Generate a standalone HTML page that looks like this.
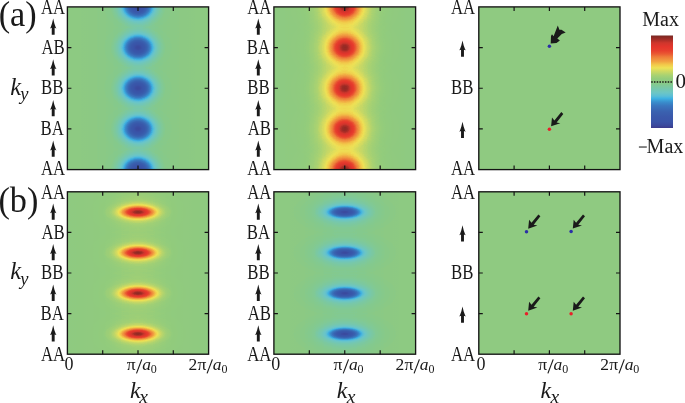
<!DOCTYPE html><html><head><meta charset="utf-8"><style>html,body{margin:0;padding:0;background:#fff;overflow:hidden}svg{display:block;will-change:transform}text{font-family:"Liberation Serif",serif;fill:#1a1a1a;stroke:none}.i{font-style:italic}</style></head><body><svg width="685" height="403" viewBox="0 0 685 403"><defs><filter id="cmP" x="0" y="0" width="1" height="1" color-interpolation-filters="sRGB"><feComponentTransfer><feFuncR type="table" tableValues="0.235 0.234 0.233 0.231 0.230 0.229 0.228 0.227 0.227 0.227 0.227 0.227 0.227 0.227 0.227 0.227 0.227 0.227 0.227 0.227 0.227 0.227 0.227 0.227 0.226 0.225 0.224 0.226 0.232 0.238 0.245 0.274 0.318 0.358 0.379 0.400 0.421 0.432 0.442 0.452 0.462 0.472 0.484 0.495 0.507 0.519 0.533 0.551 0.563 0.567 0.571 0.587 0.610 0.633 0.655 0.690 0.727 0.763 0.800 0.836 0.871 0.907 0.935 0.939 0.944 0.949 0.948 0.947 0.946 0.944 0.941 0.939 0.936 0.934 0.929 0.923 0.918 0.914 0.911 0.907 0.903 0.900 0.896 0.892 0.882 0.861 0.841 0.820 0.783 0.734 0.686 0.637 0.594 0.553 0.512 0.471"/><feFuncG type="table" tableValues="0.227 0.249 0.271 0.292 0.302 0.312 0.323 0.331 0.334 0.337 0.340 0.344 0.349 0.356 0.363 0.370 0.377 0.384 0.397 0.410 0.424 0.438 0.452 0.468 0.492 0.517 0.542 0.572 0.609 0.646 0.683 0.710 0.730 0.747 0.757 0.766 0.776 0.778 0.780 0.781 0.783 0.785 0.786 0.788 0.790 0.791 0.792 0.792 0.794 0.796 0.799 0.804 0.810 0.816 0.823 0.830 0.837 0.844 0.852 0.860 0.870 0.879 0.879 0.848 0.817 0.787 0.743 0.698 0.653 0.616 0.585 0.554 0.522 0.491 0.447 0.400 0.353 0.322 0.292 0.261 0.244 0.234 0.224 0.214 0.208 0.209 0.210 0.211 0.206 0.195 0.185 0.175 0.169 0.165 0.161 0.157"/><feFuncB type="table" tableValues="0.549 0.574 0.599 0.621 0.631 0.642 0.652 0.659 0.661 0.663 0.664 0.666 0.669 0.673 0.677 0.682 0.686 0.690 0.699 0.708 0.718 0.728 0.737 0.748 0.764 0.779 0.795 0.813 0.834 0.856 0.878 0.874 0.855 0.835 0.816 0.797 0.778 0.756 0.733 0.709 0.686 0.663 0.636 0.610 0.583 0.557 0.534 0.515 0.502 0.496 0.489 0.480 0.469 0.459 0.449 0.435 0.420 0.405 0.391 0.376 0.362 0.348 0.334 0.320 0.305 0.291 0.281 0.272 0.263 0.255 0.248 0.242 0.235 0.228 0.219 0.210 0.200 0.194 0.188 0.182 0.179 0.177 0.175 0.174 0.173 0.173 0.173 0.173 0.169 0.163 0.156 0.150 0.146 0.142 0.137 0.133"/></feComponentTransfer></filter><filter id="cmN" x="0" y="0" width="1" height="1" color-interpolation-filters="sRGB"><feComponentTransfer><feFuncR type="table" tableValues="0.471 0.512 0.553 0.594 0.637 0.686 0.734 0.783 0.820 0.841 0.861 0.882 0.892 0.896 0.900 0.903 0.907 0.911 0.914 0.918 0.923 0.929 0.934 0.936 0.939 0.941 0.944 0.946 0.947 0.948 0.949 0.944 0.939 0.935 0.907 0.871 0.836 0.800 0.763 0.727 0.690 0.655 0.633 0.610 0.587 0.571 0.567 0.563 0.551 0.533 0.519 0.507 0.495 0.484 0.472 0.462 0.452 0.442 0.432 0.421 0.400 0.379 0.358 0.318 0.274 0.245 0.238 0.232 0.226 0.224 0.225 0.226 0.227 0.227 0.227 0.227 0.227 0.227 0.227 0.227 0.227 0.227 0.227 0.227 0.227 0.227 0.227 0.227 0.227 0.228 0.229 0.230 0.231 0.233 0.234 0.235"/><feFuncG type="table" tableValues="0.157 0.161 0.165 0.169 0.175 0.185 0.195 0.206 0.211 0.210 0.209 0.208 0.214 0.224 0.234 0.244 0.261 0.292 0.322 0.353 0.400 0.447 0.491 0.522 0.554 0.585 0.616 0.653 0.698 0.743 0.787 0.817 0.848 0.879 0.879 0.870 0.860 0.852 0.844 0.837 0.830 0.823 0.816 0.810 0.804 0.799 0.796 0.794 0.792 0.792 0.791 0.790 0.788 0.786 0.785 0.783 0.781 0.780 0.778 0.776 0.766 0.757 0.747 0.730 0.710 0.683 0.646 0.609 0.572 0.542 0.517 0.492 0.468 0.452 0.438 0.424 0.410 0.397 0.384 0.377 0.370 0.363 0.356 0.349 0.344 0.340 0.337 0.334 0.331 0.323 0.312 0.302 0.292 0.271 0.249 0.227"/><feFuncB type="table" tableValues="0.133 0.137 0.142 0.146 0.150 0.156 0.163 0.169 0.173 0.173 0.173 0.173 0.174 0.175 0.177 0.179 0.182 0.188 0.194 0.200 0.210 0.219 0.228 0.235 0.242 0.248 0.255 0.263 0.272 0.281 0.291 0.305 0.320 0.334 0.348 0.362 0.376 0.391 0.405 0.420 0.435 0.449 0.459 0.469 0.480 0.489 0.496 0.502 0.515 0.534 0.557 0.583 0.610 0.636 0.663 0.686 0.709 0.733 0.756 0.778 0.797 0.816 0.835 0.855 0.874 0.878 0.856 0.834 0.813 0.795 0.779 0.764 0.748 0.737 0.728 0.718 0.708 0.699 0.690 0.686 0.682 0.677 0.673 0.669 0.666 0.664 0.663 0.661 0.659 0.652 0.642 0.631 0.621 0.599 0.574 0.549"/></feComponentTransfer></filter><radialGradient id="gw"><stop offset="0.000" stop-color="#fff" stop-opacity="1.0000"/><stop offset="0.033" stop-color="#fff" stop-opacity="0.9950"/><stop offset="0.067" stop-color="#fff" stop-opacity="0.9802"/><stop offset="0.100" stop-color="#fff" stop-opacity="0.9560"/><stop offset="0.133" stop-color="#fff" stop-opacity="0.9231"/><stop offset="0.167" stop-color="#fff" stop-opacity="0.8825"/><stop offset="0.200" stop-color="#fff" stop-opacity="0.8353"/><stop offset="0.233" stop-color="#fff" stop-opacity="0.7827"/><stop offset="0.267" stop-color="#fff" stop-opacity="0.7261"/><stop offset="0.300" stop-color="#fff" stop-opacity="0.6670"/><stop offset="0.333" stop-color="#fff" stop-opacity="0.6065"/><stop offset="0.367" stop-color="#fff" stop-opacity="0.5461"/><stop offset="0.400" stop-color="#fff" stop-opacity="0.4868"/><stop offset="0.433" stop-color="#fff" stop-opacity="0.4296"/><stop offset="0.467" stop-color="#fff" stop-opacity="0.3753"/><stop offset="0.500" stop-color="#fff" stop-opacity="0.3247"/><stop offset="0.533" stop-color="#fff" stop-opacity="0.2780"/><stop offset="0.567" stop-color="#fff" stop-opacity="0.2357"/><stop offset="0.600" stop-color="#fff" stop-opacity="0.1979"/><stop offset="0.633" stop-color="#fff" stop-opacity="0.1645"/><stop offset="0.667" stop-color="#fff" stop-opacity="0.1353"/><stop offset="0.700" stop-color="#fff" stop-opacity="0.1103"/><stop offset="0.733" stop-color="#fff" stop-opacity="0.0889"/><stop offset="0.767" stop-color="#fff" stop-opacity="0.0710"/><stop offset="0.800" stop-color="#fff" stop-opacity="0.0561"/><stop offset="0.833" stop-color="#fff" stop-opacity="0.0439"/><stop offset="0.867" stop-color="#fff" stop-opacity="0.0340"/><stop offset="0.900" stop-color="#fff" stop-opacity="0.0261"/><stop offset="0.933" stop-color="#fff" stop-opacity="0.0198"/><stop offset="0.967" stop-color="#fff" stop-opacity="0.0149"/><stop offset="1.000" stop-color="#fff" stop-opacity="0.0111"/></radialGradient><radialGradient id="gh"><stop offset="0.000" stop-color="#fff" stop-opacity="1.0000"/><stop offset="0.033" stop-color="#fff" stop-opacity="1.0000"/><stop offset="0.067" stop-color="#fff" stop-opacity="0.9998"/><stop offset="0.100" stop-color="#fff" stop-opacity="0.9992"/><stop offset="0.133" stop-color="#fff" stop-opacity="0.9975"/><stop offset="0.167" stop-color="#fff" stop-opacity="0.9938"/><stop offset="0.200" stop-color="#fff" stop-opacity="0.9873"/><stop offset="0.233" stop-color="#fff" stop-opacity="0.9766"/><stop offset="0.267" stop-color="#fff" stop-opacity="0.9604"/><stop offset="0.300" stop-color="#fff" stop-opacity="0.9373"/><stop offset="0.333" stop-color="#fff" stop-opacity="0.9060"/><stop offset="0.367" stop-color="#fff" stop-opacity="0.8654"/><stop offset="0.400" stop-color="#fff" stop-opacity="0.8148"/><stop offset="0.433" stop-color="#fff" stop-opacity="0.7542"/><stop offset="0.467" stop-color="#fff" stop-opacity="0.6843"/><stop offset="0.500" stop-color="#fff" stop-opacity="0.6065"/><stop offset="0.533" stop-color="#fff" stop-opacity="0.5235"/><stop offset="0.567" stop-color="#fff" stop-opacity="0.4383"/><stop offset="0.600" stop-color="#fff" stop-opacity="0.3546"/><stop offset="0.633" stop-color="#fff" stop-opacity="0.2761"/><stop offset="0.667" stop-color="#fff" stop-opacity="0.2059"/><stop offset="0.700" stop-color="#fff" stop-opacity="0.1465"/><stop offset="0.733" stop-color="#fff" stop-opacity="0.0989"/><stop offset="0.767" stop-color="#fff" stop-opacity="0.0630"/><stop offset="0.800" stop-color="#fff" stop-opacity="0.0377"/><stop offset="0.833" stop-color="#fff" stop-opacity="0.0211"/><stop offset="0.867" stop-color="#fff" stop-opacity="0.0110"/><stop offset="0.900" stop-color="#fff" stop-opacity="0.0053"/><stop offset="0.933" stop-color="#fff" stop-opacity="0.0023"/><stop offset="0.967" stop-color="#fff" stop-opacity="0.0009"/><stop offset="1.000" stop-color="#fff" stop-opacity="0.0003"/></radialGradient><linearGradient id="cb" x1="0" y1="1" x2="0" y2="0"><stop offset="0.000" stop-color="#3c3a8c"/><stop offset="0.030" stop-color="#3b4a9e"/><stop offset="0.070" stop-color="#3a54a8"/><stop offset="0.120" stop-color="#3a58aa"/><stop offset="0.180" stop-color="#3a62b0"/><stop offset="0.240" stop-color="#3a76be"/><stop offset="0.280" stop-color="#398ecd"/><stop offset="0.320" stop-color="#3fb2e2"/><stop offset="0.345" stop-color="#5abed6"/><stop offset="0.380" stop-color="#6cc6c6"/><stop offset="0.430" stop-color="#78c8aa"/><stop offset="0.480" stop-color="#86ca8a"/><stop offset="0.500" stop-color="#8fca81"/><stop offset="0.530" stop-color="#92cc7c"/><stop offset="0.570" stop-color="#a8d272"/><stop offset="0.615" stop-color="#d0da62"/><stop offset="0.650" stop-color="#eee256"/><stop offset="0.685" stop-color="#f2c84a"/><stop offset="0.720" stop-color="#f1a242"/><stop offset="0.770" stop-color="#ee7c3a"/><stop offset="0.800" stop-color="#ea5a33"/><stop offset="0.835" stop-color="#e7402e"/><stop offset="0.880" stop-color="#e3352c"/><stop offset="0.920" stop-color="#cf362c"/><stop offset="0.960" stop-color="#a02c26"/><stop offset="1.000" stop-color="#782822"/></linearGradient><clipPath id="c00"><rect x="67.40" y="6.90" width="141.20" height="162.70"/></clipPath><clipPath id="c01"><rect x="67.40" y="191.80" width="141.20" height="162.40"/></clipPath><clipPath id="c10"><rect x="273.90" y="6.90" width="141.70" height="162.70"/></clipPath><clipPath id="c11"><rect x="273.90" y="191.80" width="141.70" height="162.40"/></clipPath><clipPath id="c20"><rect x="478.80" y="6.90" width="141.20" height="162.70"/></clipPath><clipPath id="c21"><rect x="478.80" y="191.80" width="141.20" height="162.40"/></clipPath></defs><g clip-path="url(#c00)"><g filter="url(#cmN)" style="isolation:isolate"><rect x="66.40" y="5.90" width="143.20" height="164.70" fill="#808080"/><linearGradient id="bd00" x1="0" y1="0" x2="1" y2="0"><stop offset="0.000" stop-color="#fff" stop-opacity="0.0005"/><stop offset="0.025" stop-color="#fff" stop-opacity="0.0007"/><stop offset="0.050" stop-color="#fff" stop-opacity="0.0010"/><stop offset="0.075" stop-color="#fff" stop-opacity="0.0014"/><stop offset="0.100" stop-color="#fff" stop-opacity="0.0019"/><stop offset="0.125" stop-color="#fff" stop-opacity="0.0025"/><stop offset="0.150" stop-color="#fff" stop-opacity="0.0033"/><stop offset="0.175" stop-color="#fff" stop-opacity="0.0042"/><stop offset="0.200" stop-color="#fff" stop-opacity="0.0053"/><stop offset="0.225" stop-color="#fff" stop-opacity="0.0066"/><stop offset="0.250" stop-color="#fff" stop-opacity="0.0080"/><stop offset="0.275" stop-color="#fff" stop-opacity="0.0096"/><stop offset="0.300" stop-color="#fff" stop-opacity="0.0115"/><stop offset="0.325" stop-color="#fff" stop-opacity="0.0137"/><stop offset="0.350" stop-color="#fff" stop-opacity="0.0165"/><stop offset="0.375" stop-color="#fff" stop-opacity="0.0201"/><stop offset="0.400" stop-color="#fff" stop-opacity="0.0246"/><stop offset="0.425" stop-color="#fff" stop-opacity="0.0298"/><stop offset="0.450" stop-color="#fff" stop-opacity="0.0349"/><stop offset="0.475" stop-color="#fff" stop-opacity="0.0386"/><stop offset="0.500" stop-color="#fff" stop-opacity="0.0400"/><stop offset="0.525" stop-color="#fff" stop-opacity="0.0386"/><stop offset="0.550" stop-color="#fff" stop-opacity="0.0349"/><stop offset="0.575" stop-color="#fff" stop-opacity="0.0298"/><stop offset="0.600" stop-color="#fff" stop-opacity="0.0246"/><stop offset="0.625" stop-color="#fff" stop-opacity="0.0201"/><stop offset="0.650" stop-color="#fff" stop-opacity="0.0165"/><stop offset="0.675" stop-color="#fff" stop-opacity="0.0137"/><stop offset="0.700" stop-color="#fff" stop-opacity="0.0115"/><stop offset="0.725" stop-color="#fff" stop-opacity="0.0096"/><stop offset="0.750" stop-color="#fff" stop-opacity="0.0080"/><stop offset="0.775" stop-color="#fff" stop-opacity="0.0066"/><stop offset="0.800" stop-color="#fff" stop-opacity="0.0053"/><stop offset="0.825" stop-color="#fff" stop-opacity="0.0042"/><stop offset="0.850" stop-color="#fff" stop-opacity="0.0033"/><stop offset="0.875" stop-color="#fff" stop-opacity="0.0025"/><stop offset="0.900" stop-color="#fff" stop-opacity="0.0019"/><stop offset="0.925" stop-color="#fff" stop-opacity="0.0014"/><stop offset="0.950" stop-color="#fff" stop-opacity="0.0010"/><stop offset="0.975" stop-color="#fff" stop-opacity="0.0007"/><stop offset="1.000" stop-color="#fff" stop-opacity="0.0005"/></linearGradient><rect x="66.40" y="5.90" width="143.20" height="164.70" fill="url(#bd00)" style="mix-blend-mode:plus-lighter"/><ellipse cx="138.00" cy="6.90" rx="36.00" ry="27.00" fill="url(#gh)" opacity="0.0645" style="mix-blend-mode:plus-lighter"/><ellipse cx="138.00" cy="6.90" rx="27.00" ry="21.30" fill="url(#gw)" opacity="0.3655" style="mix-blend-mode:plus-lighter"/><ellipse cx="138.00" cy="47.57" rx="36.00" ry="27.00" fill="url(#gh)" opacity="0.0645" style="mix-blend-mode:plus-lighter"/><ellipse cx="138.00" cy="47.57" rx="27.00" ry="21.30" fill="url(#gw)" opacity="0.3655" style="mix-blend-mode:plus-lighter"/><ellipse cx="138.00" cy="88.25" rx="36.00" ry="27.00" fill="url(#gh)" opacity="0.0645" style="mix-blend-mode:plus-lighter"/><ellipse cx="138.00" cy="88.25" rx="27.00" ry="21.30" fill="url(#gw)" opacity="0.3655" style="mix-blend-mode:plus-lighter"/><ellipse cx="138.00" cy="128.92" rx="36.00" ry="27.00" fill="url(#gh)" opacity="0.0645" style="mix-blend-mode:plus-lighter"/><ellipse cx="138.00" cy="128.92" rx="27.00" ry="21.30" fill="url(#gw)" opacity="0.3655" style="mix-blend-mode:plus-lighter"/><ellipse cx="138.00" cy="169.60" rx="36.00" ry="27.00" fill="url(#gh)" opacity="0.0645" style="mix-blend-mode:plus-lighter"/><ellipse cx="138.00" cy="169.60" rx="27.00" ry="21.30" fill="url(#gw)" opacity="0.3655" style="mix-blend-mode:plus-lighter"/></g></g><g clip-path="url(#c10)"><g filter="url(#cmP)" style="isolation:isolate"><rect x="272.90" y="5.90" width="143.70" height="164.70" fill="#808080"/><linearGradient id="bd10" x1="0" y1="0" x2="1" y2="0"><stop offset="0.000" stop-color="#fff" stop-opacity="0.0005"/><stop offset="0.025" stop-color="#fff" stop-opacity="0.0008"/><stop offset="0.050" stop-color="#fff" stop-opacity="0.0012"/><stop offset="0.075" stop-color="#fff" stop-opacity="0.0017"/><stop offset="0.100" stop-color="#fff" stop-opacity="0.0025"/><stop offset="0.125" stop-color="#fff" stop-opacity="0.0034"/><stop offset="0.150" stop-color="#fff" stop-opacity="0.0047"/><stop offset="0.175" stop-color="#fff" stop-opacity="0.0063"/><stop offset="0.200" stop-color="#fff" stop-opacity="0.0083"/><stop offset="0.225" stop-color="#fff" stop-opacity="0.0107"/><stop offset="0.250" stop-color="#fff" stop-opacity="0.0135"/><stop offset="0.275" stop-color="#fff" stop-opacity="0.0166"/><stop offset="0.300" stop-color="#fff" stop-opacity="0.0199"/><stop offset="0.325" stop-color="#fff" stop-opacity="0.0235"/><stop offset="0.350" stop-color="#fff" stop-opacity="0.0270"/><stop offset="0.375" stop-color="#fff" stop-opacity="0.0305"/><stop offset="0.400" stop-color="#fff" stop-opacity="0.0336"/><stop offset="0.425" stop-color="#fff" stop-opacity="0.0363"/><stop offset="0.450" stop-color="#fff" stop-opacity="0.0383"/><stop offset="0.475" stop-color="#fff" stop-opacity="0.0396"/><stop offset="0.500" stop-color="#fff" stop-opacity="0.0400"/><stop offset="0.525" stop-color="#fff" stop-opacity="0.0396"/><stop offset="0.550" stop-color="#fff" stop-opacity="0.0383"/><stop offset="0.575" stop-color="#fff" stop-opacity="0.0363"/><stop offset="0.600" stop-color="#fff" stop-opacity="0.0336"/><stop offset="0.625" stop-color="#fff" stop-opacity="0.0305"/><stop offset="0.650" stop-color="#fff" stop-opacity="0.0270"/><stop offset="0.675" stop-color="#fff" stop-opacity="0.0235"/><stop offset="0.700" stop-color="#fff" stop-opacity="0.0199"/><stop offset="0.725" stop-color="#fff" stop-opacity="0.0166"/><stop offset="0.750" stop-color="#fff" stop-opacity="0.0135"/><stop offset="0.775" stop-color="#fff" stop-opacity="0.0107"/><stop offset="0.800" stop-color="#fff" stop-opacity="0.0083"/><stop offset="0.825" stop-color="#fff" stop-opacity="0.0063"/><stop offset="0.850" stop-color="#fff" stop-opacity="0.0047"/><stop offset="0.875" stop-color="#fff" stop-opacity="0.0034"/><stop offset="0.900" stop-color="#fff" stop-opacity="0.0025"/><stop offset="0.925" stop-color="#fff" stop-opacity="0.0017"/><stop offset="0.950" stop-color="#fff" stop-opacity="0.0012"/><stop offset="0.975" stop-color="#fff" stop-opacity="0.0008"/><stop offset="1.000" stop-color="#fff" stop-opacity="0.0005"/></linearGradient><rect x="272.90" y="5.90" width="143.70" height="164.70" fill="url(#bd10)" style="mix-blend-mode:plus-lighter"/><ellipse cx="344.75" cy="6.90" rx="54.00" ry="39.00" fill="url(#gw)" opacity="0.1720" style="mix-blend-mode:plus-lighter"/><ellipse cx="344.75" cy="6.90" rx="25.50" ry="21.60" fill="url(#gw)" opacity="0.2580" style="mix-blend-mode:plus-lighter"/><ellipse cx="344.75" cy="47.57" rx="54.00" ry="39.00" fill="url(#gw)" opacity="0.1720" style="mix-blend-mode:plus-lighter"/><ellipse cx="344.75" cy="47.57" rx="25.50" ry="21.60" fill="url(#gw)" opacity="0.2580" style="mix-blend-mode:plus-lighter"/><ellipse cx="344.75" cy="88.25" rx="54.00" ry="39.00" fill="url(#gw)" opacity="0.1720" style="mix-blend-mode:plus-lighter"/><ellipse cx="344.75" cy="88.25" rx="25.50" ry="21.60" fill="url(#gw)" opacity="0.2580" style="mix-blend-mode:plus-lighter"/><ellipse cx="344.75" cy="128.92" rx="54.00" ry="39.00" fill="url(#gw)" opacity="0.1720" style="mix-blend-mode:plus-lighter"/><ellipse cx="344.75" cy="128.92" rx="25.50" ry="21.60" fill="url(#gw)" opacity="0.2580" style="mix-blend-mode:plus-lighter"/><ellipse cx="344.75" cy="169.60" rx="54.00" ry="39.00" fill="url(#gw)" opacity="0.1720" style="mix-blend-mode:plus-lighter"/><ellipse cx="344.75" cy="169.60" rx="25.50" ry="21.60" fill="url(#gw)" opacity="0.2580" style="mix-blend-mode:plus-lighter"/></g></g><rect x="478.80" y="6.90" width="141.20" height="162.70" fill="#8fca81"/><g clip-path="url(#c01)"><g filter="url(#cmP)" style="isolation:isolate"><rect x="66.40" y="190.80" width="143.20" height="164.40" fill="#808080"/><linearGradient id="bd01" x1="0" y1="0" x2="1" y2="0"><stop offset="0.000" stop-color="#fff" stop-opacity="0.0015"/><stop offset="0.025" stop-color="#fff" stop-opacity="0.0020"/><stop offset="0.050" stop-color="#fff" stop-opacity="0.0027"/><stop offset="0.075" stop-color="#fff" stop-opacity="0.0035"/><stop offset="0.100" stop-color="#fff" stop-opacity="0.0046"/><stop offset="0.125" stop-color="#fff" stop-opacity="0.0059"/><stop offset="0.150" stop-color="#fff" stop-opacity="0.0074"/><stop offset="0.175" stop-color="#fff" stop-opacity="0.0091"/><stop offset="0.200" stop-color="#fff" stop-opacity="0.0111"/><stop offset="0.225" stop-color="#fff" stop-opacity="0.0134"/><stop offset="0.250" stop-color="#fff" stop-opacity="0.0158"/><stop offset="0.275" stop-color="#fff" stop-opacity="0.0184"/><stop offset="0.300" stop-color="#fff" stop-opacity="0.0210"/><stop offset="0.325" stop-color="#fff" stop-opacity="0.0237"/><stop offset="0.350" stop-color="#fff" stop-opacity="0.0263"/><stop offset="0.375" stop-color="#fff" stop-opacity="0.0287"/><stop offset="0.400" stop-color="#fff" stop-opacity="0.0308"/><stop offset="0.425" stop-color="#fff" stop-opacity="0.0326"/><stop offset="0.450" stop-color="#fff" stop-opacity="0.0339"/><stop offset="0.475" stop-color="#fff" stop-opacity="0.0347"/><stop offset="0.500" stop-color="#fff" stop-opacity="0.0350"/><stop offset="0.525" stop-color="#fff" stop-opacity="0.0347"/><stop offset="0.550" stop-color="#fff" stop-opacity="0.0339"/><stop offset="0.575" stop-color="#fff" stop-opacity="0.0326"/><stop offset="0.600" stop-color="#fff" stop-opacity="0.0308"/><stop offset="0.625" stop-color="#fff" stop-opacity="0.0287"/><stop offset="0.650" stop-color="#fff" stop-opacity="0.0263"/><stop offset="0.675" stop-color="#fff" stop-opacity="0.0237"/><stop offset="0.700" stop-color="#fff" stop-opacity="0.0210"/><stop offset="0.725" stop-color="#fff" stop-opacity="0.0184"/><stop offset="0.750" stop-color="#fff" stop-opacity="0.0158"/><stop offset="0.775" stop-color="#fff" stop-opacity="0.0134"/><stop offset="0.800" stop-color="#fff" stop-opacity="0.0111"/><stop offset="0.825" stop-color="#fff" stop-opacity="0.0091"/><stop offset="0.850" stop-color="#fff" stop-opacity="0.0074"/><stop offset="0.875" stop-color="#fff" stop-opacity="0.0059"/><stop offset="0.900" stop-color="#fff" stop-opacity="0.0046"/><stop offset="0.925" stop-color="#fff" stop-opacity="0.0035"/><stop offset="0.950" stop-color="#fff" stop-opacity="0.0027"/><stop offset="0.975" stop-color="#fff" stop-opacity="0.0020"/><stop offset="1.000" stop-color="#fff" stop-opacity="0.0015"/></linearGradient><rect x="66.40" y="190.80" width="143.20" height="164.40" fill="url(#bd01)" style="mix-blend-mode:plus-lighter"/><ellipse cx="138.00" cy="212.10" rx="48.00" ry="24.00" fill="url(#gw)" opacity="0.0880" style="mix-blend-mode:plus-lighter"/><ellipse cx="138.00" cy="212.10" rx="33.60" ry="11.40" fill="url(#gw)" opacity="0.3520" style="mix-blend-mode:plus-lighter"/><ellipse cx="138.00" cy="252.70" rx="48.00" ry="24.00" fill="url(#gw)" opacity="0.0880" style="mix-blend-mode:plus-lighter"/><ellipse cx="138.00" cy="252.70" rx="33.60" ry="11.40" fill="url(#gw)" opacity="0.3520" style="mix-blend-mode:plus-lighter"/><ellipse cx="138.00" cy="293.30" rx="48.00" ry="24.00" fill="url(#gw)" opacity="0.0880" style="mix-blend-mode:plus-lighter"/><ellipse cx="138.00" cy="293.30" rx="33.60" ry="11.40" fill="url(#gw)" opacity="0.3520" style="mix-blend-mode:plus-lighter"/><ellipse cx="138.00" cy="333.90" rx="48.00" ry="24.00" fill="url(#gw)" opacity="0.0880" style="mix-blend-mode:plus-lighter"/><ellipse cx="138.00" cy="333.90" rx="33.60" ry="11.40" fill="url(#gw)" opacity="0.3520" style="mix-blend-mode:plus-lighter"/></g></g><g clip-path="url(#c11)"><g filter="url(#cmN)" style="isolation:isolate"><rect x="272.90" y="190.80" width="143.70" height="164.40" fill="#808080"/><linearGradient id="bd11" x1="0" y1="0" x2="1" y2="0"><stop offset="0.000" stop-color="#fff" stop-opacity="0.0004"/><stop offset="0.025" stop-color="#fff" stop-opacity="0.0005"/><stop offset="0.050" stop-color="#fff" stop-opacity="0.0008"/><stop offset="0.075" stop-color="#fff" stop-opacity="0.0011"/><stop offset="0.100" stop-color="#fff" stop-opacity="0.0015"/><stop offset="0.125" stop-color="#fff" stop-opacity="0.0021"/><stop offset="0.150" stop-color="#fff" stop-opacity="0.0028"/><stop offset="0.175" stop-color="#fff" stop-opacity="0.0037"/><stop offset="0.200" stop-color="#fff" stop-opacity="0.0047"/><stop offset="0.225" stop-color="#fff" stop-opacity="0.0059"/><stop offset="0.250" stop-color="#fff" stop-opacity="0.0073"/><stop offset="0.275" stop-color="#fff" stop-opacity="0.0089"/><stop offset="0.300" stop-color="#fff" stop-opacity="0.0105"/><stop offset="0.325" stop-color="#fff" stop-opacity="0.0122"/><stop offset="0.350" stop-color="#fff" stop-opacity="0.0139"/><stop offset="0.375" stop-color="#fff" stop-opacity="0.0156"/><stop offset="0.400" stop-color="#fff" stop-opacity="0.0170"/><stop offset="0.425" stop-color="#fff" stop-opacity="0.0183"/><stop offset="0.450" stop-color="#fff" stop-opacity="0.0192"/><stop offset="0.475" stop-color="#fff" stop-opacity="0.0198"/><stop offset="0.500" stop-color="#fff" stop-opacity="0.0200"/><stop offset="0.525" stop-color="#fff" stop-opacity="0.0198"/><stop offset="0.550" stop-color="#fff" stop-opacity="0.0192"/><stop offset="0.575" stop-color="#fff" stop-opacity="0.0183"/><stop offset="0.600" stop-color="#fff" stop-opacity="0.0170"/><stop offset="0.625" stop-color="#fff" stop-opacity="0.0156"/><stop offset="0.650" stop-color="#fff" stop-opacity="0.0139"/><stop offset="0.675" stop-color="#fff" stop-opacity="0.0122"/><stop offset="0.700" stop-color="#fff" stop-opacity="0.0105"/><stop offset="0.725" stop-color="#fff" stop-opacity="0.0089"/><stop offset="0.750" stop-color="#fff" stop-opacity="0.0073"/><stop offset="0.775" stop-color="#fff" stop-opacity="0.0059"/><stop offset="0.800" stop-color="#fff" stop-opacity="0.0047"/><stop offset="0.825" stop-color="#fff" stop-opacity="0.0037"/><stop offset="0.850" stop-color="#fff" stop-opacity="0.0028"/><stop offset="0.875" stop-color="#fff" stop-opacity="0.0021"/><stop offset="0.900" stop-color="#fff" stop-opacity="0.0015"/><stop offset="0.925" stop-color="#fff" stop-opacity="0.0011"/><stop offset="0.950" stop-color="#fff" stop-opacity="0.0008"/><stop offset="0.975" stop-color="#fff" stop-opacity="0.0005"/><stop offset="1.000" stop-color="#fff" stop-opacity="0.0004"/></linearGradient><rect x="272.90" y="190.80" width="143.70" height="164.40" fill="url(#bd11)" style="mix-blend-mode:plus-lighter"/><ellipse cx="344.75" cy="212.10" rx="51.00" ry="22.50" fill="url(#gw)" opacity="0.1350" style="mix-blend-mode:plus-lighter"/><ellipse cx="344.75" cy="212.10" rx="29.70" ry="9.90" fill="url(#gw)" opacity="0.3150" style="mix-blend-mode:plus-lighter"/><ellipse cx="344.75" cy="252.70" rx="51.00" ry="22.50" fill="url(#gw)" opacity="0.1350" style="mix-blend-mode:plus-lighter"/><ellipse cx="344.75" cy="252.70" rx="29.70" ry="9.90" fill="url(#gw)" opacity="0.3150" style="mix-blend-mode:plus-lighter"/><ellipse cx="344.75" cy="293.30" rx="51.00" ry="22.50" fill="url(#gw)" opacity="0.1350" style="mix-blend-mode:plus-lighter"/><ellipse cx="344.75" cy="293.30" rx="29.70" ry="9.90" fill="url(#gw)" opacity="0.3150" style="mix-blend-mode:plus-lighter"/><ellipse cx="344.75" cy="333.90" rx="51.00" ry="22.50" fill="url(#gw)" opacity="0.1350" style="mix-blend-mode:plus-lighter"/><ellipse cx="344.75" cy="333.90" rx="29.70" ry="9.90" fill="url(#gw)" opacity="0.3150" style="mix-blend-mode:plus-lighter"/></g></g><rect x="478.80" y="191.80" width="141.20" height="162.40" fill="#8fca81"/><rect x="67.40" y="6.90" width="141.20" height="162.70" fill="none" stroke="#141414" stroke-width="1.35"/><path d="M102.70 6.90v4M102.70 169.60v-4M67.40 47.57h4M208.60 47.57h-4M138.00 6.90v4M138.00 169.60v-4M67.40 88.25h4M208.60 88.25h-4M173.30 6.90v4M173.30 169.60v-4M67.40 128.92h4M208.60 128.92h-4" stroke="#141414" stroke-width="1.2" fill="none"/><rect x="67.40" y="191.80" width="141.20" height="162.40" fill="none" stroke="#141414" stroke-width="1.35"/><path d="M102.70 191.80v4M102.70 354.20v-4M67.40 232.40h4M208.60 232.40h-4M138.00 191.80v4M138.00 354.20v-4M67.40 273.00h4M208.60 273.00h-4M173.30 191.80v4M173.30 354.20v-4M67.40 313.60h4M208.60 313.60h-4" stroke="#141414" stroke-width="1.2" fill="none"/><rect x="273.90" y="6.90" width="141.70" height="162.70" fill="none" stroke="#141414" stroke-width="1.35"/><path d="M309.32 6.90v4M309.32 169.60v-4M273.90 47.57h4M415.60 47.57h-4M344.75 6.90v4M344.75 169.60v-4M273.90 88.25h4M415.60 88.25h-4M380.18 6.90v4M380.18 169.60v-4M273.90 128.92h4M415.60 128.92h-4" stroke="#141414" stroke-width="1.2" fill="none"/><rect x="273.90" y="191.80" width="141.70" height="162.40" fill="none" stroke="#141414" stroke-width="1.35"/><path d="M309.32 191.80v4M309.32 354.20v-4M273.90 232.40h4M415.60 232.40h-4M344.75 191.80v4M344.75 354.20v-4M273.90 273.00h4M415.60 273.00h-4M380.18 191.80v4M380.18 354.20v-4M273.90 313.60h4M415.60 313.60h-4" stroke="#141414" stroke-width="1.2" fill="none"/><rect x="478.80" y="6.90" width="141.20" height="162.70" fill="none" stroke="#141414" stroke-width="1.35"/><path d="M514.10 6.90v4M514.10 169.60v-4M478.80 47.57h4M620.00 47.57h-4M549.40 6.90v4M549.40 169.60v-4M478.80 88.25h4M620.00 88.25h-4M584.70 6.90v4M584.70 169.60v-4M478.80 128.92h4M620.00 128.92h-4" stroke="#141414" stroke-width="1.2" fill="none"/><rect x="478.80" y="191.80" width="141.20" height="162.40" fill="none" stroke="#141414" stroke-width="1.35"/><path d="M514.10 191.80v4M514.10 354.20v-4M478.80 232.40h4M620.00 232.40h-4M549.40 191.80v4M549.40 354.20v-4M478.80 273.00h4M620.00 273.00h-4M584.70 191.80v4M584.70 354.20v-4M478.80 313.60h4M620.00 313.60h-4" stroke="#141414" stroke-width="1.2" fill="none"/><text transform="translate(53.10 13.80) scale(0.835 1)" font-size="20.1" text-anchor="middle">AA</text><text transform="translate(53.10 53.77) scale(0.835 1)" font-size="20.1" text-anchor="middle">AB</text><text transform="translate(52.20 94.45) scale(0.835 1)" font-size="20.1" text-anchor="middle">BB</text><text transform="translate(52.20 135.12) scale(0.835 1)" font-size="20.1" text-anchor="middle">BA</text><text transform="translate(53.10 174.90) scale(0.835 1)" font-size="20.1" text-anchor="middle">AA</text><path d="M53.20 18.54L54.40 23.54L55.70 27.14L56.45 28.44L54.65 27.74L54.65 34.84L51.75 34.84L51.75 27.74L49.95 28.44L50.70 27.14L52.00 23.54Z" fill="#1a1a1a"/><path d="M53.20 59.21L54.40 64.21L55.70 67.81L56.45 69.11L54.65 68.41L54.65 75.51L51.75 75.51L51.75 68.41L49.95 69.11L50.70 67.81L52.00 64.21Z" fill="#1a1a1a"/><path d="M53.20 99.89L54.40 104.89L55.70 108.49L56.45 109.79L54.65 109.09L54.65 116.19L51.75 116.19L51.75 109.09L49.95 109.79L50.70 108.49L52.00 104.89Z" fill="#1a1a1a"/><path d="M53.20 140.56L54.40 145.56L55.70 149.16L56.45 150.46L54.65 149.76L54.65 156.86L51.75 156.86L51.75 149.76L49.95 150.46L50.70 149.16L52.00 145.56Z" fill="#1a1a1a"/><text transform="translate(53.10 198.70) scale(0.835 1)" font-size="20.1" text-anchor="middle">AA</text><text transform="translate(53.10 238.60) scale(0.835 1)" font-size="20.1" text-anchor="middle">AB</text><text transform="translate(52.20 279.20) scale(0.835 1)" font-size="20.1" text-anchor="middle">BB</text><text transform="translate(52.20 319.80) scale(0.835 1)" font-size="20.1" text-anchor="middle">BA</text><text transform="translate(53.10 360.90) scale(0.835 1)" font-size="20.1" text-anchor="middle">AA</text><path d="M53.20 203.40L54.40 208.40L55.70 212.00L56.45 213.30L54.65 212.60L54.65 219.70L51.75 219.70L51.75 212.60L49.95 213.30L50.70 212.00L52.00 208.40Z" fill="#1a1a1a"/><path d="M53.20 244.00L54.40 249.00L55.70 252.60L56.45 253.90L54.65 253.20L54.65 260.30L51.75 260.30L51.75 253.20L49.95 253.90L50.70 252.60L52.00 249.00Z" fill="#1a1a1a"/><path d="M53.20 284.60L54.40 289.60L55.70 293.20L56.45 294.50L54.65 293.80L54.65 300.90L51.75 300.90L51.75 293.80L49.95 294.50L50.70 293.20L52.00 289.60Z" fill="#1a1a1a"/><path d="M53.20 325.20L54.40 330.20L55.70 333.80L56.45 335.10L54.65 334.40L54.65 341.50L51.75 341.50L51.75 334.40L49.95 335.10L50.70 333.80L52.00 330.20Z" fill="#1a1a1a"/><text transform="translate(259.30 13.80) scale(0.835 1)" font-size="20.1" text-anchor="middle">AA</text><text transform="translate(258.40 53.77) scale(0.835 1)" font-size="20.1" text-anchor="middle">BA</text><text transform="translate(258.40 94.45) scale(0.835 1)" font-size="20.1" text-anchor="middle">BB</text><text transform="translate(259.30 135.12) scale(0.835 1)" font-size="20.1" text-anchor="middle">AB</text><text transform="translate(259.30 174.90) scale(0.835 1)" font-size="20.1" text-anchor="middle">AA</text><path d="M258.30 18.54L259.50 23.54L260.80 27.14L261.55 28.44L259.75 27.74L259.75 34.84L256.85 34.84L256.85 27.74L255.05 28.44L255.80 27.14L257.10 23.54Z" fill="#1a1a1a"/><path d="M258.30 59.21L259.50 64.21L260.80 67.81L261.55 69.11L259.75 68.41L259.75 75.51L256.85 75.51L256.85 68.41L255.05 69.11L255.80 67.81L257.10 64.21Z" fill="#1a1a1a"/><path d="M258.30 99.89L259.50 104.89L260.80 108.49L261.55 109.79L259.75 109.09L259.75 116.19L256.85 116.19L256.85 109.09L255.05 109.79L255.80 108.49L257.10 104.89Z" fill="#1a1a1a"/><path d="M258.30 140.56L259.50 145.56L260.80 149.16L261.55 150.46L259.75 149.76L259.75 156.86L256.85 156.86L256.85 149.76L255.05 150.46L255.80 149.16L257.10 145.56Z" fill="#1a1a1a"/><text transform="translate(259.30 198.70) scale(0.835 1)" font-size="20.1" text-anchor="middle">AA</text><text transform="translate(258.40 238.60) scale(0.835 1)" font-size="20.1" text-anchor="middle">BA</text><text transform="translate(258.40 279.20) scale(0.835 1)" font-size="20.1" text-anchor="middle">BB</text><text transform="translate(259.30 319.80) scale(0.835 1)" font-size="20.1" text-anchor="middle">AB</text><text transform="translate(259.30 360.90) scale(0.835 1)" font-size="20.1" text-anchor="middle">AA</text><path d="M258.30 203.40L259.50 208.40L260.80 212.00L261.55 213.30L259.75 212.60L259.75 219.70L256.85 219.70L256.85 212.60L255.05 213.30L255.80 212.00L257.10 208.40Z" fill="#1a1a1a"/><path d="M258.30 244.00L259.50 249.00L260.80 252.60L261.55 253.90L259.75 253.20L259.75 260.30L256.85 260.30L256.85 253.20L255.05 253.90L255.80 252.60L257.10 249.00Z" fill="#1a1a1a"/><path d="M258.30 284.60L259.50 289.60L260.80 293.20L261.55 294.50L259.75 293.80L259.75 300.90L256.85 300.90L256.85 293.80L255.05 294.50L255.80 293.20L257.10 289.60Z" fill="#1a1a1a"/><path d="M258.30 325.20L259.50 330.20L260.80 333.80L261.55 335.10L259.75 334.40L259.75 341.50L256.85 341.50L256.85 334.40L255.05 335.10L255.80 333.80L257.10 330.20Z" fill="#1a1a1a"/><text transform="translate(463.10 13.80) scale(0.835 1)" font-size="20.1" text-anchor="middle">AA</text><path d="M462.50 40.47L463.70 45.47L465.00 49.07L465.75 50.37L463.95 49.67L463.95 56.77L461.05 56.77L461.05 49.67L459.25 50.37L460.00 49.07L461.30 45.47Z" fill="#1a1a1a"/><text transform="translate(462.20 94.45) scale(0.835 1)" font-size="20.1" text-anchor="middle">BB</text><path d="M462.50 121.82L463.70 126.82L465.00 130.42L465.75 131.72L463.95 131.02L463.95 138.12L461.05 138.12L461.05 131.02L459.25 131.72L460.00 130.42L461.30 126.82Z" fill="#1a1a1a"/><text transform="translate(463.10 174.90) scale(0.835 1)" font-size="20.1" text-anchor="middle">AA</text><text transform="translate(463.10 198.70) scale(0.835 1)" font-size="20.1" text-anchor="middle">AA</text><path d="M462.50 225.30L463.70 230.30L465.00 233.90L465.75 235.20L463.95 234.50L463.95 241.60L461.05 241.60L461.05 234.50L459.25 235.20L460.00 233.90L461.30 230.30Z" fill="#1a1a1a"/><text transform="translate(462.20 279.20) scale(0.835 1)" font-size="20.1" text-anchor="middle">BB</text><path d="M462.50 306.50L463.70 311.50L465.00 315.10L465.75 316.40L463.95 315.70L463.95 322.80L461.05 322.80L461.05 315.70L459.25 316.40L460.00 315.10L461.30 311.50Z" fill="#1a1a1a"/><text transform="translate(463.10 360.90) scale(0.835 1)" font-size="20.1" text-anchor="middle">AA</text><text transform="translate(-1.3 26.2) scale(0.985 1)" font-size="34.8">(a)</text><text transform="translate(-1.6 211.8) scale(0.985 1)" font-size="34.8">(b)</text><text x="10.2" y="94.55" font-size="24.5" class="i">k</text><text x="20.3" y="99.75" font-size="18.5" class="i">y</text><text x="10.2" y="279.30" font-size="24.5" class="i">k</text><text x="20.3" y="284.50" font-size="18.5" class="i">y</text><text x="68.90" y="369.8" font-size="18" text-anchor="middle">0</text><text x="126.80" y="369.60" font-size="17.5">π</text><path d="M136.50 373.40L141.80 359.40" stroke="#1a1a1a" stroke-width="1.15"/><text x="142.20" y="369.60" font-size="17.5" class="i">a</text><text x="150.80" y="373.30" font-size="12">0</text><text x="188.40" y="369.60" font-size="17.5">2</text><text x="197.40" y="369.60" font-size="17.5">π</text><path d="M207.10 373.40L212.40 359.40" stroke="#1a1a1a" stroke-width="1.15"/><text x="212.80" y="369.60" font-size="17.5" class="i">a</text><text x="221.40" y="373.30" font-size="12">0</text><text x="130.10" y="397.8" font-size="23.8" class="i">k</text><text x="139.30" y="402.8" font-size="19.5" class="i">x</text><text x="275.70" y="369.8" font-size="18" text-anchor="middle">0</text><text x="333.55" y="369.60" font-size="17.5">π</text><path d="M343.25 373.40L348.55 359.40" stroke="#1a1a1a" stroke-width="1.15"/><text x="348.95" y="369.60" font-size="17.5" class="i">a</text><text x="357.55" y="373.30" font-size="12">0</text><text x="395.40" y="369.60" font-size="17.5">2</text><text x="404.40" y="369.60" font-size="17.5">π</text><path d="M414.10 373.40L419.40 359.40" stroke="#1a1a1a" stroke-width="1.15"/><text x="419.80" y="369.60" font-size="17.5" class="i">a</text><text x="428.40" y="373.30" font-size="12">0</text><text x="336.85" y="397.8" font-size="23.8" class="i">k</text><text x="346.65" y="402.8" font-size="19.5" class="i">x</text><text x="481.00" y="369.8" font-size="18" text-anchor="middle">0</text><text x="538.20" y="369.60" font-size="17.5">π</text><path d="M547.90 373.40L553.20 359.40" stroke="#1a1a1a" stroke-width="1.15"/><text x="553.60" y="369.60" font-size="17.5" class="i">a</text><text x="562.20" y="373.30" font-size="12">0</text><text x="600.30" y="369.60" font-size="17.5">2</text><text x="609.30" y="369.60" font-size="17.5">π</text><path d="M619.00 373.40L624.30 359.40" stroke="#1a1a1a" stroke-width="1.15"/><text x="624.70" y="369.60" font-size="17.5" class="i">a</text><text x="633.30" y="373.30" font-size="12">0</text><text x="540.60" y="397.8" font-size="23.8" class="i">k</text><text x="550.40" y="402.8" font-size="19.5" class="i">x</text><rect x="651" y="35.5" width="22" height="92.5" fill="url(#cb)"/><path d="M651.2 82.0H673" stroke="#1a1a1a" stroke-width="1.7" stroke-dasharray="1.5 1.25"/><text x="642.3" y="25.5" font-size="20">Max</text><text x="675.4" y="88.0" font-size="21">0</text><rect x="638.9" y="146.5" width="7.9" height="1.05" fill="#1a1a1a"/><text x="646.6" y="152.8" font-size="20">Max</text><circle cx="549.40" cy="46.30" r="1.75" fill="#2b2fa6"/><path d="M550.70 43.60L551.00 36.00L552.00 34.30L553.60 36.30L557.80 25.50L559.40 29.70L561.50 29.80L565.70 32.40L561.80 33.90L557.30 38.60L559.90 40.50L556.50 42.90Z" fill="#1a1a1a"/><circle cx="549.40" cy="129.30" r="1.75" fill="#e8202a"/><path d="M551.10 126.30L552.00 117.40L554.40 120.40L561.30 112.10L563.30 113.90L556.60 122.40L560.30 123.20Z" fill="#1a1a1a"/><circle cx="526.50" cy="231.70" r="1.75" fill="#2b2fa6"/><path d="M528.20 228.70L529.10 219.80L531.50 222.80L538.40 214.50L540.40 216.30L533.70 224.80L537.40 225.60Z" fill="#1a1a1a"/><circle cx="571.10" cy="231.60" r="1.75" fill="#2b2fa6"/><path d="M572.80 228.60L573.70 219.70L576.10 222.70L583.00 214.40L585.00 216.20L578.30 224.70L582.00 225.50Z" fill="#1a1a1a"/><circle cx="526.50" cy="313.70" r="1.75" fill="#e8202a"/><path d="M528.20 310.70L529.10 301.80L531.50 304.80L538.40 296.50L540.40 298.30L533.70 306.80L537.40 307.60Z" fill="#1a1a1a"/><circle cx="571.10" cy="313.70" r="1.75" fill="#e8202a"/><path d="M572.80 310.70L573.70 301.80L576.10 304.80L583.00 296.50L585.00 298.30L578.30 306.80L582.00 307.60Z" fill="#1a1a1a"/></svg></body></html>
